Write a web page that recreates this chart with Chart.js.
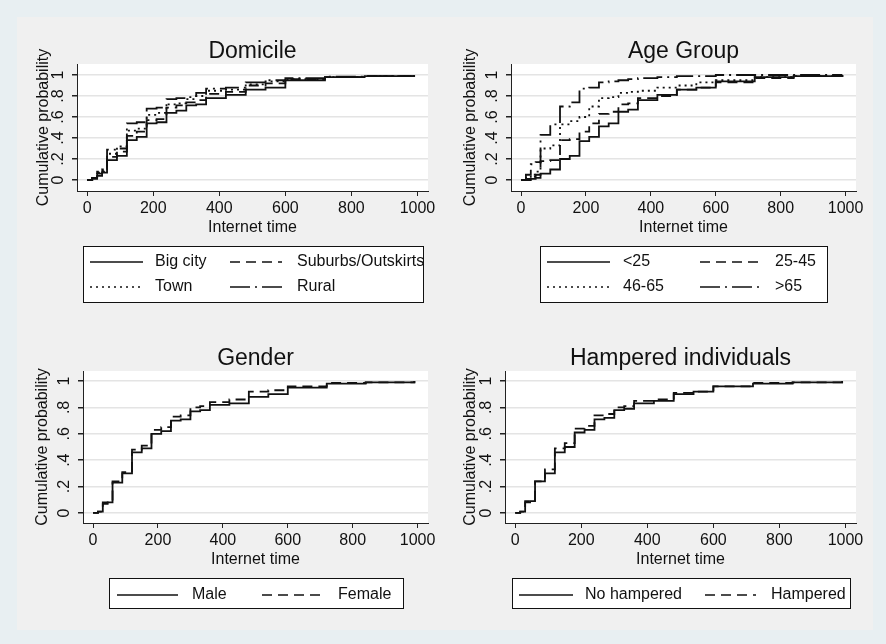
<!DOCTYPE html>
<html>
<head>
<meta charset="utf-8">
<script src="https://cdn.jsdelivr.net/npm/chart.js@4.4.1/dist/chart.umd.min.js"></script>
<style>
  body { margin: 0; background: #e8eff2; }
  #frame { position: absolute; left: 0; top: 0; width: 886px; height: 644px; }
  #inner { position: absolute; left: 17px; top: 17px; width: 856px; height: 613px; background: #f0f0f0; }
  canvas { position: absolute; }
</style>
</head>
<body>
<div id="frame">
  <div id="inner"></div>
  <canvas id="domicile" width="443" height="322" style="left:0;top:0"></canvas>
  <canvas id="age" width="443" height="322" style="left:443px;top:0"></canvas>
  <canvas id="gender" width="443" height="322" style="left:0;top:322px"></canvas>
  <canvas id="hampered" width="443" height="322" style="left:443px;top:322px"></canvas>
</div>
<script>
// internet time values where the empirical CDFs step
const internetTime = [0, 15, 30, 45, 60, 90, 120, 150, 180, 210, 240, 270, 300, 330, 360, 420, 480, 540, 600, 720, 840, 990];

const xTicks = [0, 200, 400, 600, 800, 1000];
const xTickLabels = ['0', '200', '400', '600', '800', '1000'];
const yTicks = [0, 0.2, 0.4, 0.6, 0.8, 1];
const yTickLabels = ['0', '.2', '.4', '.6', '.8', '1'];

// Domicile
const bigCity  = [0, .01, .04, .07, .19, .23, .38, .41, .54, .55, .64, .66, .71, .72, .78, .81, .86, .88, .95, .98, .99, 1];
const suburbs  = [0, .02, .06, .08, .22, .27, .42, .46, .57, .58, .69, .71, .74, .76, .82, .84, .90, .92, .96, .98, .99, 1];
const town     = [0, .02, .07, .09, .25, .32, .47, .49, .62, .64, .72, .73, .77, .80, .85, .86, .91, .94, .96, .98, .99, 1];
const rural    = [0, .02, .08, .10, .29, .30, .54, .55, .68, .69, .77, .78, .79, .83, .87, .88, .93, .95, .97, .985, .99, 1];

// Age group
const ageUnder25 = [0, 0, .01, .02, .06, .10, .20, .23, .37, .41, .51, .54, .65, .67, .76, .81, .86, .88, .94, .98, .99, 1];
const age25to45  = [0, .01, .03, .05, .18, .19, .38, .39, .46, .54, .63, .65, .72, .73, .78, .80, .86, .88, .93, .97, .99, 1];
const age46to65  = [0, .02, .05, .08, .30, .33, .53, .56, .60, .70, .78, .79, .83, .84, .85, .88, .90, .93, .95, .98, .99, 1];
const ageOver65  = [0, .05, .15, .17, .43, .53, .70, .74, .87, .88, .93, .94, .95, .96, .97, .98, .99, .99, 1, 1, 1, 1];

// Gender
const male   = [0, .01, .07, .08, .23, .30, .46, .49, .60, .62, .70, .71, .77, .78, .82, .83, .88, .90, .95, .98, .99, 1];
const female = [0, .01, .08, .09, .24, .31, .48, .51, .63, .65, .73, .74, .80, .81, .84, .86, .92, .93, .96, .985, .99, 1];

// Hampered individuals
const noHampered  = [0, .01, .08, .09, .24, .30, .46, .50, .61, .63, .71, .72, .78, .79, .83, .85, .90, .92, .96, .98, .99, 1];
const isHampered  = [0, .01, .09, .10, .24, .33, .49, .53, .64, .66, .74, .75, .80, .81, .85, .86, .91, .92, .96, .985, .99, 1];

const SOLID = [];
const DASH = [10, 6];
const DOT = [2, 4];
const DASHDOT = [20, 5, 2, 5];

const FONT = '"Liberation Sans", Arial, sans-serif';
const INK = '#111';

function stataText(p) {
    return {
        id: 'stataText',
        beforeDraw(chart) {
            const a = chart.chartArea, ctx = chart.ctx;
            ctx.save();
            ctx.fillStyle = '#ffffff';
            ctx.fillRect(a.left, a.top, a.right - a.left, a.bottom - a.top);
            ctx.restore();
        },
        afterDraw(chart) {
            const a = chart.chartArea, ctx = chart.ctx;
            const xs = chart.scales.x, ys = chart.scales.y;
            const cx = (a.left + a.right) / 2;
            const cy = (a.top + a.bottom) / 2;
            ctx.save();
            ctx.fillStyle = INK;
            ctx.textAlign = 'center';

            // title
            ctx.font = '23px ' + FONT;
            ctx.textBaseline = 'alphabetic';
            ctx.fillText(p.title, cx, a.top - 6.5);

            // x axis labels
            ctx.font = '16px ' + FONT;
            ctx.textBaseline = 'middle';
            xTicks.forEach((v, i) => ctx.fillText(xTickLabels[i], xs.getPixelForValue(v), a.bottom + 17.5));
            ctx.fillText('Internet time', cx, a.bottom + 36.5);

            // y axis labels, turned like Stata does
            yTicks.forEach((v, i) => {
                ctx.save();
                ctx.translate(a.left - 18.5, ys.getPixelForValue(v));
                ctx.rotate(-Math.PI / 2);
                ctx.fillText(yTickLabels[i], 0, 0);
                ctx.restore();
            });
            ctx.save();
            ctx.translate(p.yTitleX, cy);
            ctx.rotate(-Math.PI / 2);
            ctx.fillText('Cumulative probability', 0, 0);
            ctx.restore();

            // legend box
            const b = p.legendBox;
            ctx.fillStyle = '#ffffff';
            ctx.fillRect(b[0], b[1], b[2] - b[0], b[3] - b[1]);
            ctx.strokeStyle = INK;
            ctx.lineWidth = 1;
            ctx.strokeRect(b[0] + 0.5, b[1] + 0.5, b[2] - b[0], b[3] - b[1]);
            ctx.textAlign = 'left';
            ctx.fillStyle = INK;
            p.series.forEach((s, i) => {
                const k = p.legendSlots[i];
                ctx.save();
                ctx.lineWidth = 1.6;
                ctx.setLineDash(s.dash);
                ctx.beginPath();
                ctx.moveTo(k[0], k[3]);
                ctx.lineTo(k[1], k[3]);
                ctx.stroke();
                ctx.restore();
                ctx.fillText(s.label, k[2], k[3]);
            });
            ctx.restore();
        }
    };
}

function makePanel(id, p) {
    const a = p.area;
    new Chart(document.getElementById(id), {
        type: 'line',
        data: {
            datasets: p.series.map(s => ({
                label: s.label,
                data: internetTime.map((x, i) => ({ x: x, y: s.values[i] })),
                stepped: true,
                borderColor: INK,
                borderWidth: 1.8,
                borderDash: s.dash,
                pointRadius: 0,
                fill: false
            }))
        },
        options: {
            responsive: false,
            animation: false,
            layout: { padding: { left: 0, top: a.top, right: 443 - a.right, bottom: 0 } },
            plugins: { legend: { display: false }, tooltip: { enabled: false }, title: { display: false } },
            scales: {
                x: {
                    type: 'linear',
                    min: -31,
                    max: 1032,
                    afterBuildTicks: s => { s.ticks = xTicks.map(v => ({ value: v })); },
                    afterFit: s => { s.height = 322 - a.bottom; },
                    ticks: { display: false },
                    grid: { drawOnChartArea: false, drawTicks: true, tickLength: 5, tickColor: '#222', lineWidth: 1 },
                    border: { color: '#222', width: 1 }
                },
                y: {
                    type: 'linear',
                    min: p.yMin,
                    max: p.yMax,
                    afterBuildTicks: s => { s.ticks = yTicks.map(v => ({ value: v })); },
                    afterFit: s => { s.width = a.left; },
                    ticks: { display: false },
                    grid: { color: '#e4e4e4', lineWidth: 1.5, drawTicks: true, tickLength: 5, tickColor: '#222' },
                    border: { color: '#222', width: 1 }
                }
            }
        },
        plugins: [stataText(p)]
    });
}

makePanel('domicile', {
    title: 'Domicile',
    area: { left: 77, right: 428, top: 64, bottom: 191 },
    yMin: -0.105, yMax: 1.105,
    yTitleX: 44,
    series: [
        { label: 'Big city', values: bigCity, dash: SOLID },
        { label: 'Suburbs/Outskirts', values: suburbs, dash: DASH },
        { label: 'Town', values: town, dash: DOT },
        { label: 'Rural', values: rural, dash: DASHDOT }
    ],
    legendBox: [83, 246, 423, 302],
    legendSlots: [[90, 143, 155, 262], [230, 282, 297, 262], [90, 143, 155, 287], [230, 285, 297, 287]]
});

makePanel('age', {
    title: 'Age Group',
    area: { left: 68, right: 413, top: 64, bottom: 191 },
    yMin: -0.105, yMax: 1.105,
    yTitleX: 28,
    series: [
        { label: '<25', values: ageUnder25, dash: SOLID },
        { label: '25-45', values: age25to45, dash: DASH },
        { label: '46-65', values: age46to65, dash: DOT },
        { label: '>65', values: ageOver65, dash: DASHDOT }
    ],
    legendBox: [97, 246, 384, 302],
    legendSlots: [[104, 167, 180, 262], [257, 320, 332, 262], [104, 167, 180, 287], [257, 320, 332, 287]]
});

makePanel('gender', {
    title: 'Gender',
    area: { left: 83, right: 428, top: 49, bottom: 201 },
    yMin: -0.076, yMax: 1.076,
    yTitleX: 43,
    series: [
        { label: 'Male', values: male, dash: SOLID },
        { label: 'Female', values: female, dash: DASH }
    ],
    legendBox: [109, 256, 403, 286],
    legendSlots: [[117, 178, 192, 273], [262, 323, 338, 273]]
});

makePanel('hampered', {
    title: 'Hampered individuals',
    area: { left: 62, right: 413, top: 49, bottom: 201 },
    yMin: -0.076, yMax: 1.076,
    yTitleX: 28,
    series: [
        { label: 'No hampered', values: noHampered, dash: SOLID },
        { label: 'Hampered', values: isHampered, dash: DASH }
    ],
    legendBox: [69, 256, 407, 286],
    legendSlots: [[76, 130, 142, 273], [262, 313, 328, 273]]
});
</script>
</body>
</html>
